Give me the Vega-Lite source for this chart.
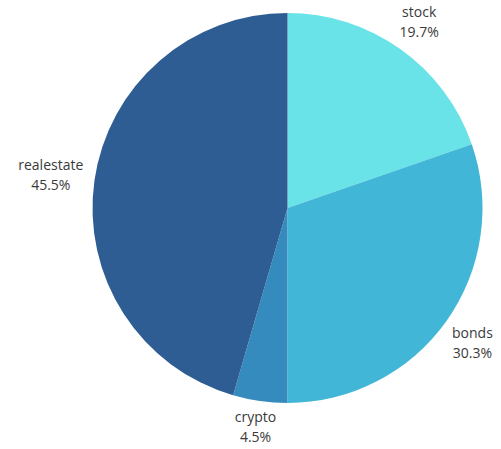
{
  "$schema": "https://vega.github.io/schema/vega-lite/v6.json",
  "autosize": {"type": "none"},
  "width": 390,
  "height": 390,
  "padding": {"left": 92.5, "top": 13, "right": 18.5, "bottom": 46},
  "background": "white",
  "view": {"stroke": null},
  "data": {
    "values": [
      {"asset": "stock", "share": 0.197},
      {"asset": "bonds", "share": 0.303},
      {"asset": "crypto", "share": 0.045},
      {"asset": "realestate", "share": 0.455}
    ]
  },
  "encoding": {
    "theta": {"field": "share", "type": "quantitative", "stack": true, "scale": {"range": [1.237788, 7.520973]}},
    "order": {"field": "asset", "type": "nominal", "sort": "ascending"},
    "color": {
      "field": "asset",
      "type": "nominal",
      "scale": {
        "domain": ["stock", "bonds", "crypto", "realestate"],
        "range": ["#6ae3e8", "#42b6d6", "#358bbd", "#2d5d93"]
      },
      "legend": null
    }
  },
  "layer": [
    {"mark": {"type": "arc", "outerRadius": 195, "stroke": null}},
    {
      "mark": {"type": "text", "radius": 227, "dy": {"expr": "datum.asset === 'crypto' ? -15 : datum.asset === 'bonds' ? -6 : -10"}, "dx": {"expr": "datum.asset === 'realestate' ? -12 : 0"}, "font": "Open Sans", "fontSize": 14, "fill": "#3a3a3a", "align": "center", "baseline": "middle"},
      "encoding": {"text": {"field": "asset"}, "color": {"value": "#3a3a3a"}}
    },
    {
      "mark": {"type": "text", "radius": 227, "dy": {"expr": "datum.asset === 'crypto' ? 5 : datum.asset === 'bonds' ? 14 : 10"}, "dx": {"expr": "datum.asset === 'realestate' ? -12 : 0"}, "font": "Open Sans", "fontSize": 14, "fill": "#3a3a3a", "align": "center", "baseline": "middle"},
      "encoding": {"text": {"field": "share", "format": ".1%"}, "color": {"value": "#3a3a3a"}}
    }
  ]
}
